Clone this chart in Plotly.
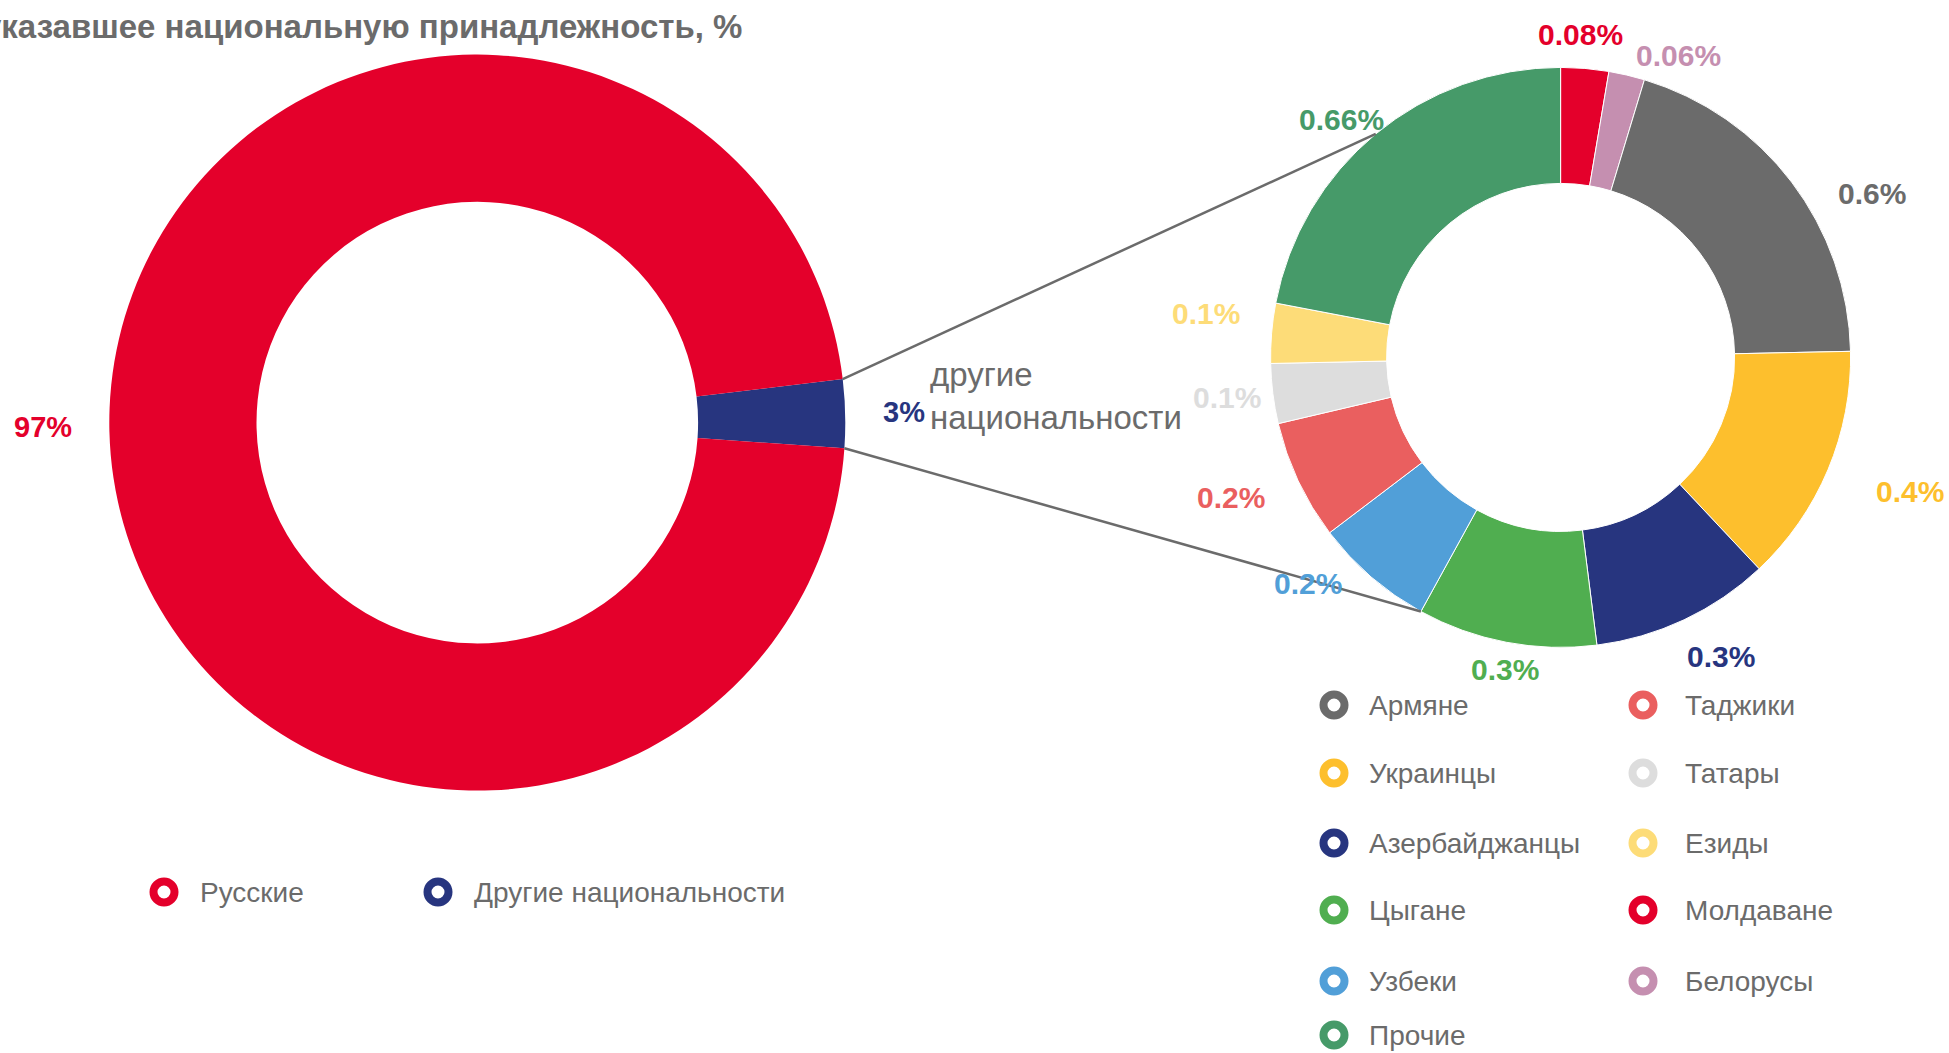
import math
import plotly.graph_objects as go

# ---------------- data ----------------
main_labels = ["Другие национальности", "Русские"]
main_values = [3, 97]
main_text = ["3%", "97%"]

sub_labels = ["Молдаване", "Белорусы", "Армяне", "Украинцы", "Азербайджанцы", "Цыгане",
              "Узбеки", "Таджики", "Татары", "Езиды", "Прочие"]
sub_values = [0.08, 0.06, 0.6, 0.4, 0.3, 0.3, 0.2, 0.2, 0.1, 0.1, 0.66]
sub_text = ["0.08%", "0.06%", "0.6%", "0.4%", "0.3%", "0.3%", "0.2%", "0.2%", "0.1%", "0.1%", "0.66%"]

legend_col1 = ["Армяне", "Украинцы", "Азербайджанцы", "Цыгане", "Узбеки", "Прочие"]
legend_col2 = ["Таджики", "Татары", "Езиды", "Молдаване", "Белорусы"]

title_text = "указавшее национальную принадлежность, %"
callout_text = "другие<br>национальности"

# ---------------- styles ----------------
COLORS = {
    "Русские": "#E4002B", "Другие национальности": "#27357F",
    "Молдаване": "#E4002B", "Белорусы": "#C58FB0", "Армяне": "#6B6B6B",
    "Украинцы": "#FDBF2D", "Азербайджанцы": "#27357F", "Цыгане": "#50AE50",
    "Узбеки": "#519FD8", "Таджики": "#EA5F5F", "Татары": "#DDDDDD",
    "Езиды": "#FDDC78", "Прочие": "#469A69",
}
GRAY = "#6B6B6B"
NARROW = "Liberation Sans Narrow, Arial Narrow, Liberation Sans, Arial, sans-serif"
ARIAL = "Liberation Sans, Arial, sans-serif"

W, H = 1949, 1053
# donut geometry (pixels)
L_CX, L_CY, L_R = 477.3, 422.6, 368.0
R_CX, R_CY, R_R = 1560.6, 357.4, 290.0
L_ROT = 83.2
HOLE = 0.6

# label placement tweaks (radial gap px / angular nudge deg)
sub_gap = [34, 34, 62, 84, 49, 27, 49, 68, 46, 67, 33]
sub_nudge = [-1.2, 8.1, 9.4, -1.8, -3.0, -0.7, 7.3, 2.1, 0.4, 2.2, -3.0]
main_gap = [59, 66]
main_nudge = [0, 0.8]


def domain(cx, cy, r):
    return dict(x=[(cx - r) / W, (cx + r) / W], y=[1 - (cy + r) / H, 1 - (cy - r) / H])


def polar(cx, cy, r, deg):
    a = math.radians(deg)
    return cx + r * math.sin(a), cy - r * math.cos(a)


fig = go.Figure()

fig.add_trace(go.Pie(
    labels=main_labels, values=main_values, hole=HOLE, sort=False, direction="clockwise",
    rotation=L_ROT, textinfo="none", hoverinfo="label+value",
    marker=dict(colors=[COLORS[l] for l in main_labels], line=dict(color="white", width=0)),
    domain=domain(L_CX, L_CY, L_R), showlegend=False,
))
fig.add_trace(go.Pie(
    labels=sub_labels, values=sub_values, hole=HOLE, sort=False, direction="clockwise",
    rotation=0, textinfo="none", hoverinfo="label+value",
    marker=dict(colors=[COLORS[l] for l in sub_labels], line=dict(color="white", width=1)),
    domain=domain(R_CX, R_CY, R_R), showlegend=False,
))

annotations = []
shapes = []

# right donut labels from cumulative angles
tot = sum(sub_values)
cum = 0.0
bounds = []
for i, v in enumerate(sub_values):
    a0 = cum / tot * 360
    cum += v
    a1 = cum / tot * 360
    bounds.append((a0, a1))
    mid = (a0 + a1) / 2 + sub_nudge[i]
    x, y = polar(R_CX, R_CY, R_R + sub_gap[i], mid)
    annotations.append(dict(x=x, y=y, xref="x", yref="y", text=sub_text[i], showarrow=False,
                            font=dict(family=NARROW, size=30, color=COLORS[sub_labels[i]], weight="bold"),
                            xanchor="center", yanchor="middle"))

# left donut labels
mtot = sum(main_values)
cum = 0.0
mbounds = []
for i, v in enumerate(main_values):
    a0 = L_ROT + cum / mtot * 360
    cum += v
    a1 = L_ROT + cum / mtot * 360
    mbounds.append((a0, a1))
    mid = (a0 + a1) / 2 + main_nudge[i]
    x, y = polar(L_CX, L_CY, L_R + main_gap[i], mid)
    annotations.append(dict(x=x, y=y, xref="x", yref="y", text=main_text[i], showarrow=False,
                            font=dict(family=ARIAL, size=29, color=COLORS[main_labels[i]], weight="bold"),
                            xanchor="center", yanchor="middle"))

# connector lines
p1 = polar(L_CX, L_CY, L_R, mbounds[0][0])
p2 = polar(L_CX, L_CY, L_R, mbounds[0][1])
i_other = sub_labels.index("Прочие")
q1 = polar(R_CX, R_CY, R_R, sum(bounds[i_other]) / 2)
i_gyp = sub_labels.index("Цыгане")
q2 = polar(R_CX, R_CY, R_R, bounds[i_gyp][1])
for a, b in ((p1, q1), (p2, q2)):
    shapes.append(dict(type="line", xref="x", yref="y", x0=a[0], y0=a[1], x1=b[0], y1=b[1],
                       line=dict(color=GRAY, width=2.5), layer="above"))

# callout text
annotations.append(dict(x=928, y=396, xref="x", yref="y", text=callout_text, showarrow=False,
                        align="left", xanchor="left", yanchor="middle",
                        font=dict(family=ARIAL, size=33, color=GRAY)))

# title (clipped at left like original)
annotations.append(dict(x=744, y=26, xref="x", yref="y", text=title_text, showarrow=False,
                        xanchor="right", yanchor="middle",
                        font=dict(family=NARROW, size=33, color=GRAY, weight="bold")))

# ---------------- custom legends ----------------
leg_x, leg_y, leg_c = [], [], []


def add_item(name, mx, my, tx):
    leg_x.append(mx)
    leg_y.append(my)
    leg_c.append(COLORS[name])
    annotations.append(dict(x=tx, y=my, xref="x", yref="y", text=name, showarrow=False,
                            xanchor="left", yanchor="middle",
                            font=dict(family=NARROW, size=28, color=GRAY)))


rows = [705, 773, 843, 910, 981, 1035]
for k, name in enumerate(legend_col1):
    add_item(name, 1334, rows[k], 1367)
for k, name in enumerate(legend_col2):
    add_item(name, 1643, rows[k], 1683)
add_item(main_labels[1], 164, 892, 198)
add_item(main_labels[0], 438, 892, 472)

fig.add_trace(go.Scatter(
    x=leg_x, y=leg_y, mode="markers", hoverinfo="skip", showlegend=False,
    marker=dict(symbol="circle", size=21, color="white", line=dict(color=leg_c, width=8)),
))

fig.update_layout(
    width=W, height=H, margin=dict(l=0, r=0, t=0, b=0),
    paper_bgcolor="white", plot_bgcolor="rgba(0,0,0,0)",
    xaxis=dict(range=[0, W], visible=False, fixedrange=True, domain=[0, 1]),
    yaxis=dict(range=[H, 0], visible=False, fixedrange=True, domain=[0, 1]),
    annotations=annotations, shapes=shapes, showlegend=False,
)

fig.write_html("out.html", config={"displayModeBar": False},
               post_script="document.body.style.margin='0';document.body.style.overflow='hidden';")
